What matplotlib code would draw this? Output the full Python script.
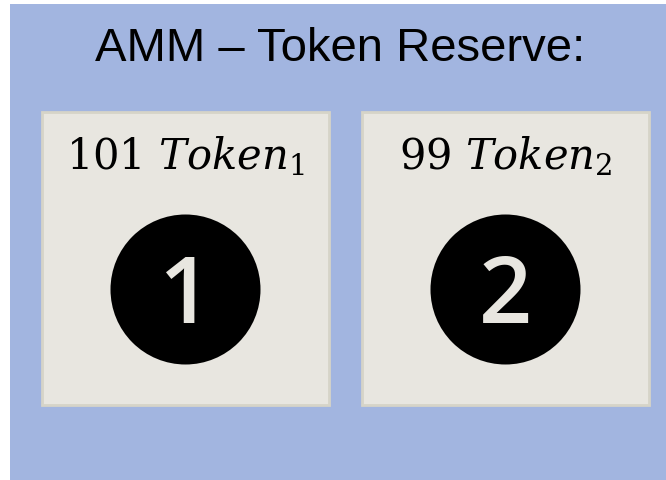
import matplotlib.pyplot as plt
from matplotlib.patches import Rectangle, Circle

# ================== DATA ==================
TITLE = "AMM – Token Reserve:"
reserves = [101, 99]        # amount held of each token
token_ids = [1, 2]          # subscript / circle number
# ==========================================

BG_BLUE = "#A2B5E0"
BOX_FILL = "#E8E6E0"
BOX_EDGE = "#D6D4C8"

plt.rcParams["mathtext.fontset"] = "dejavuserif"

fig = plt.figure(figsize=(6.66, 4.81), dpi=100)
ax = fig.add_axes([0, 0, 1, 1])
ax.set_xlim(0, 666)
ax.set_ylim(481, 0)
ax.axis("off")

# blue panel
ax.add_patch(Rectangle((10, 5), 660, 480, facecolor=BG_BLUE, edgecolor="none"))
ax.text(340, 61, TITLE, ha="center", va="baseline", fontsize=34,
        family="Liberation Sans", color="black")

box_left = [42, 362]
box_w, box_top, box_h = 287, 113, 293

for left, amount, idx in zip(box_left, reserves, token_ids):
    ax.add_patch(Rectangle((left, box_top), box_w, box_h, facecolor=BOX_FILL,
                           edgecolor=BOX_EDGE, linewidth=2))
    cx = left + box_w / 2
    ax.text(cx, 169, rf"${amount}\ Token_{idx}$", ha="center", va="baseline",
            fontsize=30, color="black")
    ax.add_patch(Circle((cx, 290.5), 75, facecolor="black", edgecolor="none"))
    ax.text(cx, 323, str(idx), ha="center", va="baseline", fontsize=67,
            family="Open Sans", weight="semibold", color=BOX_FILL)

fig.savefig("out.png", dpi=100)
